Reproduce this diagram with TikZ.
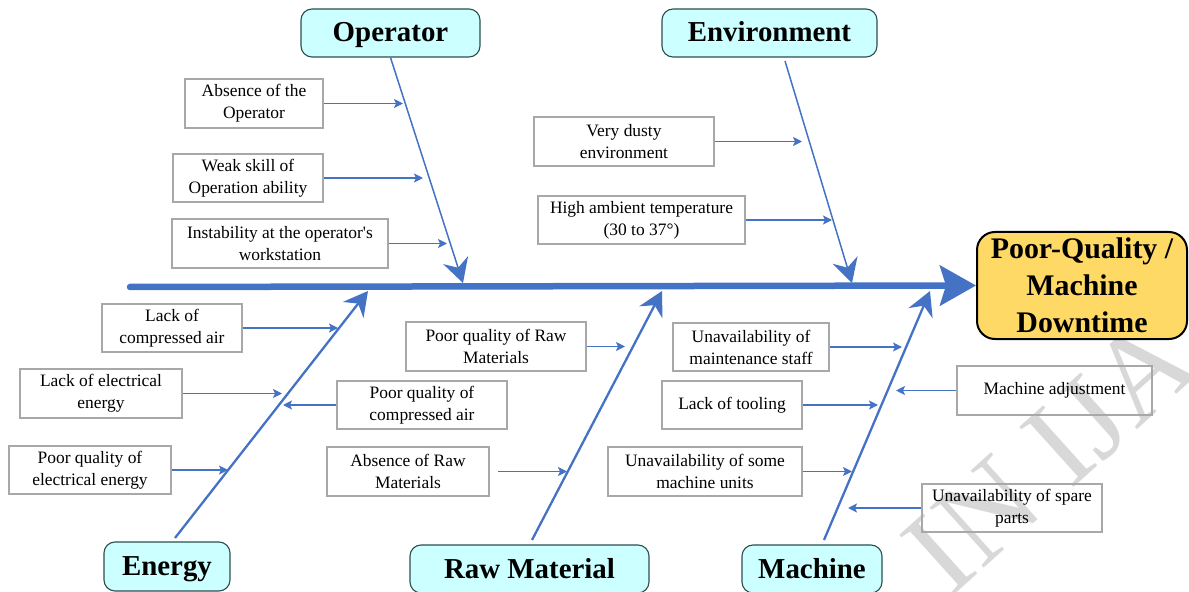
\documentclass[tikz,border=0pt]{standalone}
\usepackage{fontspec}
\setmainfont{Liberation Serif}
\usetikzlibrary{arrows.meta}
\definecolor{bone}{HTML}{4472C4}
\definecolor{catfill}{HTML}{CCFFFF}
\definecolor{catline}{HTML}{2A4F4F}
\definecolor{headfill}{HTML}{FFD966}
\definecolor{causeline}{HTML}{A8A8A8}
\definecolor{wmark}{HTML}{D8D8D8}
\begin{document}
\begin{tikzpicture}[x=1bp,y=-1bp,
  sz/.style 2 args={minimum width=#1bp, minimum height=#2bp},
  cause/.style={draw=causeline, line width=1.1bp, align=center, inner sep=0pt,
    font=\fontsize{17.5}{22}\selectfont},
  cat/.style={draw=catline, fill=catfill, line width=1.1bp, rounded corners=11bp,
    inner sep=0pt, text height=18bp, text depth=0bp,
    font=\fontsize{29}{34}\selectfont\bfseries},
  head/.style={draw=black, fill=headfill, line width=2bp, rounded corners=18bp,
    inner sep=0pt, align=center, font=\fontsize{30}{37}\selectfont\bfseries},
  spine/.style={draw=bone, line width=6.5bp, line cap=round,
    -{Stealth[length=36bp, width=40bp, inset=6bp]}},
  bonethin/.style={draw=bone, line width=1.5bp,
    -{Stealth[length=24bp, width=26bp, inset=8bp]}},
  bonethick/.style={draw=bone, line width=2.3bp,
    -{Stealth[length=24bp, width=26bp, inset=8bp]}},
  feed/.style={draw=bone, line width=1.6bp,
    -{Stealth[length=9bp, width=9bp, inset=2bp]}},
]
\useasboundingbox (0,0) rectangle (1189,592);

% watermark behind everything
\begin{scope}
  \clip (0,0) rectangle (1189,592);
  \node[text=wmark, rotate=42, font=\fontsize{124}{124}\selectfont] (wm) at (1050,455) {IN IJA};
\end{scope}

% effect
\node[head, sz={210}{107}] (effect) at (1082,285.5) {Poor-Quality /\\Machine\\Downtime};

% categories
\node[cat, sz={179}{48}] (op)  at (390.5,33)  {Operator};
\node[cat, sz={215}{48}] (env) at (769.5,33)  {Environment};
\node[cat, sz={126}{49}] (en)  at (167,566.5) {Energy};
\node[cat, sz={239}{48}] (raw) at (529.5,569) {Raw Material};
\node[cat, sz={140}{48}] (mac) at (812,569)   {Machine};

% spine
\coordinate (tail) at (130,287);
\draw[spine] (tail) -- (effect.west);

% bone ends on the spine
\coordinate (opT)  at (463,283);
\coordinate (envT) at (852,283);
\coordinate (enT)  at (368,291);
\coordinate (rawT) at (662,291);
\coordinate (macT) at (930,291);
% bone starts near the category boxes
\coordinate (envS) at (785,61);
\coordinate (enS)  at (175,538);
\coordinate (rawS) at (532,540);
\coordinate (macS) at (824,540);

\draw[bonethin]  (op.south) -- (opT);
\draw[bonethin]  (envS) -- (envT);
\draw[bonethick] (enS) -- (enT);
\draw[bonethick] (rawS) -- (rawT);
\draw[bonethick] (macS) -- (macT);

% causes: operator
\node[cause, sz={138}{49}] (c1) at (254,103.5) {Absence of the\\Operator};
\node[cause, sz={150}{48}] (c2) at (248,178) {Weak skill of\\Operation ability};
\node[cause, sz={216}{49}] (c3) at (280,243.5) {Instability at the operator\textquotesingle s\\workstation};
% causes: environment
\node[cause, sz={180}{49}] (c4) at (624,141.5) {Very dusty\\environment};
\node[cause, sz={207}{48}] (c5) at (641.5,220) {High ambient temperature\\(30 to 37°)};
% causes: energy
\node[cause, sz={140}{48}] (c6) at (172,328) {Lack of\\compressed air};
\node[cause, sz={162}{49}] (c7) at (101,393.5) {Lack of electrical\\energy};
\node[cause, sz={162}{48}] (c8) at (90,470) {Poor quality of\\electrical energy};
\node[cause, sz={170}{48}] (c9) at (422,405) {Poor quality of\\compressed air};
% causes: raw material
\node[cause, sz={180}{49}] (c10) at (496,346.5) {Poor quality of Raw\\Materials};
\node[cause, sz={162}{49}] (c11) at (408,471.5) {Absence of Raw\\Materials};
% causes: machine
\node[cause, sz={156}{48}] (c12) at (751,347) {Unavailability of\\maintenance staff};
\node[cause, sz={140}{48}] (c13) at (732,405) {Lack of tooling};
\node[cause, sz={194}{49}] (c14) at (705,471.5) {Unavailability of some\\machine units};
\node[cause, sz={195}{49}] (c15) at (1054.5,390.5) {Machine adjustment};
\node[cause, sz={180}{48}] (c16) at (1012,508) {Unavailability of spare\\parts};

% arrow tips on the bones
\coordinate (t1)  at (403,103.5);
\coordinate (t2)  at (423,178);
\coordinate (t3)  at (447,243.5);
\coordinate (t4)  at (802,141.5);
\coordinate (t5)  at (832,220);
\coordinate (t6)  at (338,328);
\coordinate (t7)  at (282,393.5);
\coordinate (t8)  at (228,470);
\coordinate (t9)  at (283,405);
\coordinate (t10) at (625,346.5);
\coordinate (t11) at (567,471.5);
\coordinate (t12) at (902,347);
\coordinate (t13) at (878,405);
\coordinate (t14) at (852,471.5);
\coordinate (t15) at (896,390.5);
\coordinate (t16) at (848,508);

\draw[feed] (c1.east) -- (t1);
\draw[feed] (c2.east) -- (t2);
\draw[feed] (c3.east) -- (t3);
\draw[feed] (c4.east) -- (t4);
\draw[feed] (c5.east) -- (t5);
\draw[feed] (c6.east) -- (t6);
\draw[feed] (c7.east) -- (t7);
\draw[feed] (c8.east) -- (t8);
\draw[feed] (c9.west) -- (t9);
\draw[feed] (c10.east) -- (t10);
\draw[feed, shorten <=8bp] (c11.east) -- (t11);
\draw[feed] (c12.east) -- (t12);
\draw[feed] (c13.east) -- (t13);
\draw[feed] (c14.east) -- (t14);
\draw[feed] (c15.west) -- (t15);
\draw[feed] (c16.west) -- (t16);
\end{tikzpicture}
\end{document}
